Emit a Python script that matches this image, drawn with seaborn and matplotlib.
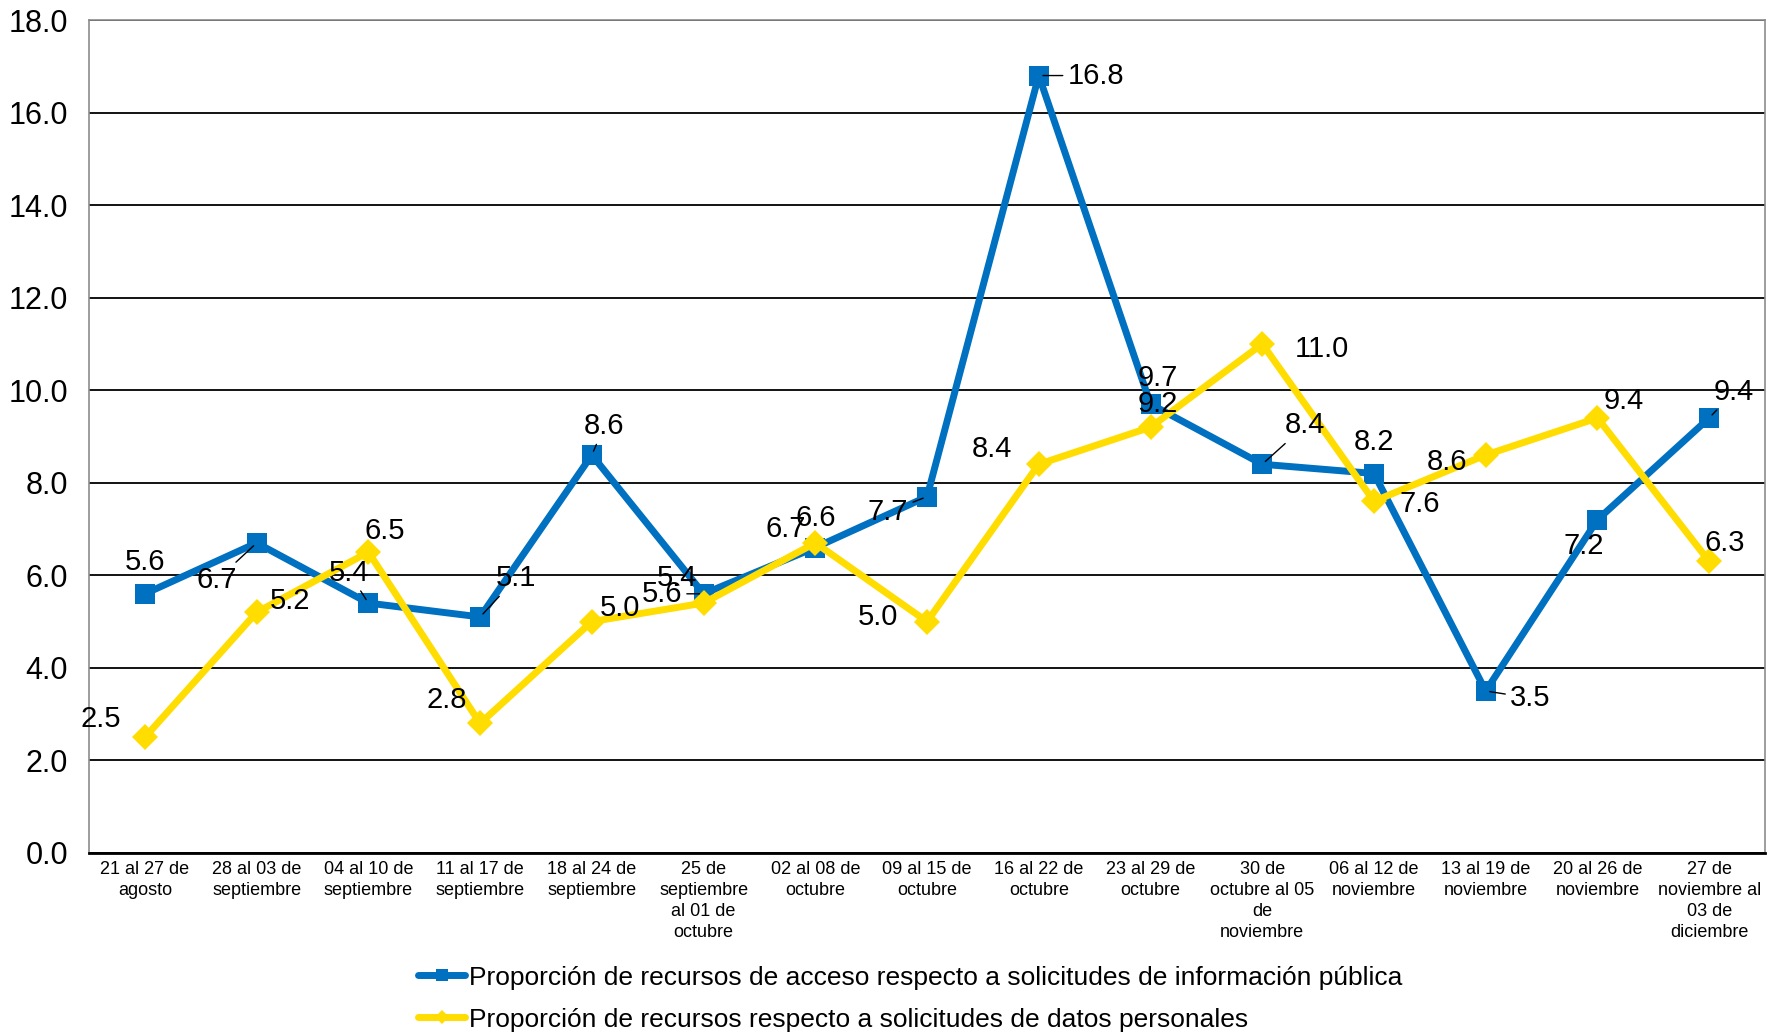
import numpy as np
import pandas as pd
import matplotlib
matplotlib.use("Agg")
import matplotlib.pyplot as plt
import seaborn as sns

semanas = [
    "21 al 27 de\nagosto",
    "28 al 03 de\nseptiembre",
    "04 al 10 de\nseptiembre",
    "11 al 17 de\nseptiembre",
    "18 al 24 de\nseptiembre",
    "25 de\nseptiembre\nal 01 de\noctubre",
    "02 al 08 de\noctubre",
    "09 al 15 de\noctubre",
    "16 al 22 de\noctubre",
    "23 al 29 de\noctubre",
    "30 de\noctubre al 05\nde\nnoviembre",
    "06 al 12 de\nnoviembre",
    "13 al 19 de\nnoviembre",
    "20 al 26 de\nnoviembre",
    "27 de\nnoviembre al\n03 de\ndiciembre",
]
acceso = [5.6, 6.7, 5.4, 5.1, 8.6, 5.6, 6.6, 7.7, 16.8, 9.7, 8.4, 8.2, 3.5, 7.2, 9.4]
datos = [2.5, 5.2, 6.5, 2.8, 5.0, 5.4, 6.7, 5.0, 8.4, 9.2, 11.0, 7.6, 8.6, 9.4, 6.3]

serie_acceso = "Proporción de recursos de acceso respecto a solicitudes de información pública"
serie_datos = "Proporción de recursos respecto a solicitudes de datos personales"

AZUL = "#0070C0"
AMARILLO = "#FFDD00"

# label offsets in points (dx, dy), and whether a leader line is drawn
off_acceso = [(0, 23), (-29, -27), (-14, 22), (26, 28), (9, 21), (-30, 0), (0, 21), (-28, -11),
              (41, 0), (5, 19), (31, 28), (0, 23), (32, -5), (-10, -19), (18, 19)]
lead_acceso = [0, 1, 1, 1, 1, 1, 0, 1, 1, 0, 1, 0, 1, 0, 1]
off_datos = [(-32, 13), (24, 8), (12, 15), (-24, 17), (20, 10), (-19, 18), (-21, 10), (-35, 3),
             (-34, 11), (5, 17), (43, -4), (33, -2), (-28, -5), (19, 12), (11, 13)]

sns.set_theme(style="white")
plt.rcParams["font.family"] = ["Liberation Sans", "DejaVu Sans"]
plt.rcParams["text.color"] = "black"
plt.rcParams["xtick.color"] = "black"
plt.rcParams["ytick.color"] = "black"

x = np.arange(len(semanas))
df = pd.DataFrame({"x": x, "acceso": acceso, "datos": datos})

fig, ax = plt.subplots(figsize=(17.67, 10.32), dpi=100)
fig.subplots_adjust(left=0.0504, right=0.9989, bottom=0.1735, top=0.9806)

sns.lineplot(data=df, x="x", y="acceso", ax=ax, color=AZUL, lw=5, marker="s",
             markersize=15, markeredgewidth=0, label=serie_acceso, zorder=3)
sns.lineplot(data=df, x="x", y="datos", ax=ax, color=AMARILLO, lw=5, marker="D",
             markersize=13, markeredgewidth=0, label=serie_datos, zorder=4)

ax.set_xlim(-0.5, len(semanas) - 0.5)
ax.set_ylim(0, 18)
ax.set_yticks(np.arange(0, 18.1, 2))
ax.set_yticklabels([f"{v:.1f}" for v in np.arange(0, 18.1, 2)], fontsize=22)
ax.set_xticks(x)
ax.set_xticklabels(semanas, fontsize=13, linespacing=1.3)
ax.tick_params(axis="y", length=0, pad=15)
ax.tick_params(axis="x", length=0, pad=6)
ax.set_xlabel("")
ax.set_ylabel("")

ax.grid(axis="y", color="black", lw=1.3)
ax.grid(axis="x", visible=False)
for s in ["left", "top", "right"]:
    ax.spines[s].set_color("#8c8c8c")
    ax.spines[s].set_linewidth(1.2)
ax.spines["bottom"].set_color("black")
ax.spines["bottom"].set_linewidth(2)

for i, v in enumerate(acceso):
    dx, dy = off_acceso[i]
    kw = {}
    if lead_acceso[i]:
        kw["arrowprops"] = dict(arrowstyle="-", color="black", lw=1, shrinkA=1, shrinkB=3)
    ax.annotate(f"{v:.1f}", (x[i], v), xytext=(dx, dy), textcoords="offset points",
                ha="center", va="center", fontsize=21, color="black", zorder=6, **kw)
for i, v in enumerate(datos):
    dx, dy = off_datos[i]
    ax.annotate(f"{v:.1f}", (x[i], v), xytext=(dx, dy), textcoords="offset points",
                ha="center", va="center", fontsize=21, color="black", zorder=6)

ax.legend(loc="upper left", bbox_to_anchor=(0.229, 0.077), bbox_transform=fig.transFigure,
          frameon=False, borderpad=0, handlelength=1.8, handletextpad=0.15,
          labelspacing=0.68, markerscale=0.55, prop={"size": 19})

fig.savefig("out.png", dpi=100)
